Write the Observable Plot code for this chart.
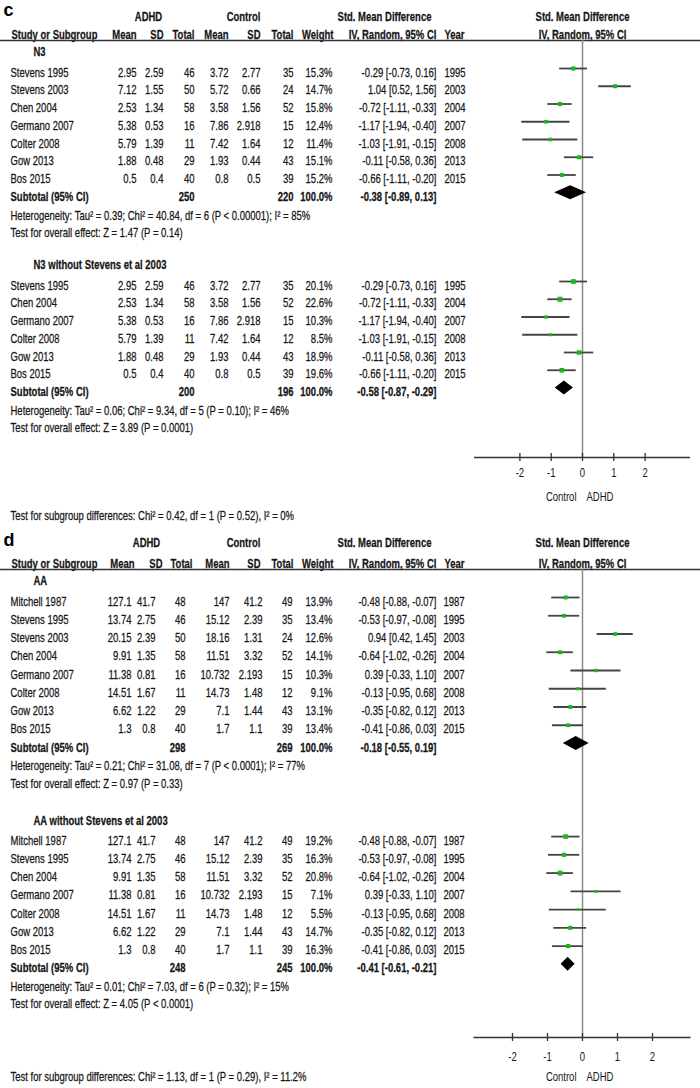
<!DOCTYPE html>
<html><head><meta charset="utf-8">
<script src="https://cdn.jsdelivr.net/npm/d3@7"></script>
<script src="https://cdn.jsdelivr.net/npm/@observablehq/plot@0.6"></script>
<style>
body{margin:0;background:#fff;}
#chart svg{display:block;}
</style></head><body><div id="chart"></div>
<script>
// ---------- Panel c data (N3) ----------
const studiesC = ["Stevens 1995","Stevens 2003","Chen 2004","Germano 2007","Colter 2008","Gow 2013","Bos 2015"];
const adhdMeanC = [2.95, 7.12, 2.53, 5.38, 5.79, 1.88, 0.5];
const adhdSdC = [2.59, 1.55, 1.34, 0.53, 1.39, 0.48, 0.4];
const adhdNC = [46, 50, 58, 16, 11, 29, 40];
const ctrlMeanC = [3.72, 5.72, 3.58, 7.86, 7.42, 1.93, 0.8];
const ctrlSdC = [2.77, 0.66, 1.56, 2.918, 1.64, 0.44, 0.5];
const ctrlNC = [35, 24, 52, 15, 12, 43, 39];
const smdC = [-0.29, 1.04, -0.72, -1.17, -1.03, -0.11, -0.66];
const loC = [-0.73, 0.52, -1.11, -1.94, -1.91, -0.58, -1.11];
const hiC = [0.16, 1.56, -0.33, -0.40, -0.15, 0.36, -0.20];
const yearC = [1995, 2003, 2004, 2007, 2008, 2013, 2015];
const groupsC = ["N3", "N3 without Stevens et al 2003"];
const membersC = [[0,1,2,3,4,5,6], [0,2,3,4,5,6]];
const weightsC = [[15.3,14.7,15.8,12.4,11.4,15.1,15.2], [20.1,22.6,10.3,8.5,18.9,19.6]];
const subAdhdNC = [250, 200];
const subCtrlNC = [220, 196];
const subSmdC = [-0.38, -0.58];
const subLoC = [-0.89, -0.87];
const subHiC = [0.13, -0.29];
const heteroC = ["Heterogeneity: Tau² = 0.39; Chi² = 40.84, df = 6 (P < 0.00001); I² = 85%",
                 "Heterogeneity: Tau² = 0.06; Chi² = 9.34, df = 5 (P = 0.10); I² = 46%"];
const overallC = ["Test for overall effect: Z = 1.47 (P = 0.14)", "Test for overall effect: Z = 3.89 (P = 0.0001)"];
const subgroupTestC = "Test for subgroup differences: Chi² = 0.42, df = 1 (P = 0.52), I² = 0%";

// ---------- Panel d data (AA) ----------
const studiesD = ["Mitchell 1987","Stevens 1995","Stevens 2003","Chen 2004","Germano 2007","Colter 2008","Gow 2013","Bos 2015"];
const adhdMeanD = [127.1, 13.74, 20.15, 9.91, 11.38, 14.51, 6.62, 1.3];
const adhdSdD = [41.7, 2.75, 2.39, 1.35, 0.81, 1.67, 1.22, 0.8];
const adhdND = [48, 46, 50, 58, 16, 11, 29, 40];
const ctrlMeanD = [147, 15.12, 18.16, 11.51, 10.732, 14.73, 7.1, 1.7];
const ctrlSdD = [41.2, 2.39, 1.31, 3.32, 2.193, 1.48, 1.44, 1.1];
const ctrlND = [49, 35, 24, 52, 15, 12, 43, 39];
const smdD = [-0.48, -0.53, 0.94, -0.64, 0.39, -0.13, -0.35, -0.41];
const loD = [-0.88, -0.97, 0.42, -1.02, -0.33, -0.95, -0.82, -0.86];
const hiD = [-0.07, -0.08, 1.45, -0.26, 1.10, 0.68, 0.12, 0.03];
const yearD = [1987, 1995, 2003, 2004, 2007, 2008, 2013, 2015];
const groupsD = ["AA", "AA without Stevens et al 2003"];
const membersD = [[0,1,2,3,4,5,6,7], [0,1,3,4,5,6,7]];
const weightsD = [[13.9,13.4,12.6,14.1,10.3,9.1,13.1,13.4], [19.2,16.3,20.8,7.1,5.5,14.7,16.3]];
const subAdhdND = [298, 248];
const subCtrlND = [269, 245];
const subSmdD = [-0.18, -0.41];
const subLoD = [-0.55, -0.61];
const subHiD = [0.19, -0.21];
const heteroD = ["Heterogeneity: Tau² = 0.21; Chi² = 31.08, df = 7 (P < 0.0001); I² = 77%",
                 "Heterogeneity: Tau² = 0.01; Chi² = 7.03, df = 6 (P = 0.32); I² = 15%"];
const overallD = ["Test for overall effect: Z = 0.97 (P = 0.33)", "Test for overall effect: Z = 4.05 (P < 0.0001)"];
const subgroupTestD = "Test for subgroup differences: Chi² = 1.13, df = 1 (P = 0.29), I² = 11.2%";

// ---------- shared labels ----------
const axisTicks = [-2, -1, 0, 1, 2];
const favourLeft = "Control";
const favourRight = "ADHD";
const headRow1 = ["ADHD", "Control", "Std. Mean Difference", "Std. Mean Difference"];
const headRow2 = ["Study or Subgroup", "Mean", "SD", "Total", "Mean", "SD", "Total", "Weight", "IV, Random, 95% CI", "Year", "IV, Random, 95% CI"];
const subtotalLabel = "Subtotal (95% CI)";

// ---------- styling / layout ----------
const FONT = '"Liberation Sans",Arial,sans-serif';
const FS = 12.5;          // font size
const SQUEEZE = 0.76;     // horizontal condensing (narrow face look)
const TEXT = "#161616";
const GREEN = "#17b817";

const layoutC = {
  height: 528, y0: 72, step: 17.75, xZero: 582, xUnit: 31.3, xHalf: 3.45,
  kTitle: -3.48, kHead1: -3.155, kHead2: -2.14, kLine: -1.8,
  labelGap: 1.13, group2First: 12, hetGap: 1.08, testGap: 2.05,
  kAxis: 21.69, kFav: 23.94, kSubTest: 25.01, tickPad: 11,
  cols: {m1:136, sd1:163, n1:194, m2:228, sd2:260, n2:293, w:332, smd:436, year:444},
  head1: [148, 243, 384, 582],
  head2: [[11,"start"],[136,"end"],[163,"end"],[194,"end"],[228,"end"],[260,"end"],[293,"end"],[333,"end"],[392,"middle"],[444,"start"],[582,"middle"]]
};
const layoutD = {
  height: 560, y0: 73, step: 18.25, xZero: 582, xUnit: 35, xHalf: 3.1,
  kTitle: -3.384, kHead1: -3.18, kHead2: -2.08, kLine: -1.75,
  labelGap: 1.1, group2First: 13.1, hetGap: 1.03, testGap: 1.98,
  kAxis: 23.89, kFav: 26.08, kSubTest: 26.08, tickPad: 15,
  cols: {m1:131, sd1:155, n1:185, m2:229, sd2:262, n2:292, w:332, smd:436, year:443},
  head1: [146, 243, 384, 582],
  head2: [[11,"start"],[134,"end"],[162,"end"],[192,"end"],[229,"end"],[260,"end"],[293,"end"],[333,"end"],[392,"middle"],[444,"start"],[582,"middle"]]
};

const C = {label:"c", studies:studiesC, adhdMean:adhdMeanC, adhdSd:adhdSdC, adhdN:adhdNC, ctrlMean:ctrlMeanC, ctrlSd:ctrlSdC, ctrlN:ctrlNC,
  smd:smdC, lo:loC, hi:hiC, year:yearC, groups:groupsC, members:membersC, weights:weightsC,
  subAdhdN:subAdhdNC, subCtrlN:subCtrlNC, subSmd:subSmdC, subLo:subLoC, subHi:subHiC, hetero:heteroC, overall:overallC, subgroupTest:subgroupTestC};
const D = {label:"d", studies:studiesD, adhdMean:adhdMeanD, adhdSd:adhdSdD, adhdN:adhdND, ctrlMean:ctrlMeanD, ctrlSd:ctrlSdD, ctrlN:ctrlND,
  smd:smdD, lo:loD, hi:hiD, year:yearD, groups:groupsD, members:membersD, weights:weightsD,
  subAdhdN:subAdhdND, subCtrlN:subCtrlND, subSmd:subSmdD, subLo:subLoD, subHi:subHiD, hetero:heteroD, overall:overallD, subgroupTest:subgroupTestD};

const f2 = v => v.toFixed(2);
const ciText = (e, l, h) => `${f2(e)} [${f2(l)}, ${f2(h)}]`;

function panel(P, L) {
  const rows = [], forest = [], diamonds = [];
  P.groups.forEach((g, gi) => {
    let k = gi === 0 ? 0 : L.group2First;
    rows.push({k: k - L.labelGap, label: g});
    P.members[gi].forEach((si, j) => {
      const w = P.weights[gi][j];
      forest.push({k, est: P.smd[si], lo: P.lo[si], hi: P.hi[si], w});
      rows.push({k, study: P.studies[si], m1: String(P.adhdMean[si]), sd1: String(P.adhdSd[si]), n1: String(P.adhdN[si]),
        m2: String(P.ctrlMean[si]), sd2: String(P.ctrlSd[si]), n2: String(P.ctrlN[si]), w: w.toFixed(1) + "%",
        smd: ciText(P.smd[si], P.lo[si], P.hi[si]), year: String(P.year[si])});
      k++;
    });
    rows.push({k, bold: true, study: subtotalLabel, n1: String(P.subAdhdN[gi]), n2: String(P.subCtrlN[gi]), w: "100.0%",
      smd: ciText(P.subSmd[gi], P.subLo[gi], P.subHi[gi])});
    const hk = 7 / L.step;
    diamonds.push({g: gi, x: P.subLo[gi], y1: k, y2: k});
    diamonds.push({g: gi, x: P.subSmd[gi], y1: k - hk, y2: k + hk});
    diamonds.push({g: gi, x: P.subHi[gi], y1: k, y2: k});
    rows.push({k: k + L.hetGap, note: P.hetero[gi]});
    rows.push({k: k + L.testGap, note: P.overall[gi]});
  });
  rows.push({k: L.kSubTest, note: P.subgroupTest});

  const txt = (data, text, dx, anchor, weight, extra = {}) =>
    Plot.text(data, {y: "k", text, frameAnchor: "left", dx, textAnchor: anchor, fontWeight: weight,
      fontSize: FS, fontFamily: FONT, fill: TEXT, stroke: TEXT, strokeWidth: 0.25, ...extra});

  const marks = [];
  const normal = rows.filter(d => !d.bold), bold = rows.filter(d => d.bold);
  marks.push(txt(normal.filter(d => d.study), "study", 10, "start", "normal"));
  marks.push(txt(bold, "study", 10, "start", "bold"));
  for (const key of ["m1","sd1","n1","m2","sd2","n2","w","smd"]) {
    marks.push(txt(normal.filter(d => d[key] != null), key, L.cols[key], "end", "normal"));
    marks.push(txt(bold.filter(d => d[key] != null), key, L.cols[key], "end", "bold"));
  }
  marks.push(txt(normal.filter(d => d.year), "year", L.cols.year, "start", "normal"));
  marks.push(txt(rows.filter(d => d.label), "label", 33, "start", "bold"));
  marks.push(txt(rows.filter(d => d.note), "note", 10, "start", "normal"));
  headRow1.forEach((h, i) => marks.push(txt([{k: L.kHead1, h}], "h", L.head1[i], "middle", "bold")));
  headRow2.forEach((h, i) => marks.push(txt([{k: L.kHead2, h}], "h", L.head2[i][0], L.head2[i][1], "bold")));
  marks.push(Plot.text([{k: L.kTitle, h: P.label}], {y: "k", text: "h", frameAnchor: "left", dx: 3, textAnchor: "start",
    fontWeight: "bold", fontSize: 18, fontFamily: FONT, fill: "#000"}));
  marks.push(Plot.ruleY([L.kLine], {stroke: "#333", strokeWidth: 1.4}));
  marks.push(Plot.ruleX([0], {y1: L.kLine, y2: L.kAxis, stroke: "#8a8a8a", strokeWidth: 1.5}));
  marks.push(Plot.ruleY(forest, {y: "k", x1: "lo", x2: "hi", stroke: "#444", strokeWidth: 1.8, dy: -4}));
  marks.push(Plot.dot(forest, {x: "est", y: "k", r: "w", symbol: "square", fill: GREEN, dy: -4}));
  marks.push(Plot.areaY(diamonds, {x: "x", y1: "y1", y2: "y2", z: "g", fill: "#000", dy: -4}));
  marks.push(Plot.ruleY([L.kAxis], {x1: -L.xHalf, x2: L.xHalf, stroke: "#333", strokeWidth: 1.4}));
  marks.push(Plot.ruleX(axisTicks, {y1: L.kAxis - 4 / L.step, y2: L.kAxis + 4 / L.step, stroke: "#333", strokeWidth: 1.3}));
  marks.push(Plot.axisX({anchor: "bottom", ticks: axisTicks, tickSize: 0, tickPadding: L.tickPad,
    tickFormat: d => String(d), label: null, fontSize: FS, fontFamily: FONT, fill: TEXT}));
  marks.push(Plot.text([{k: L.kFav, t: favourLeft}], {x: () => 0, y: "k", text: "t", dx: -6, textAnchor: "end", fontSize: FS, fontFamily: FONT, fill: TEXT}));
  marks.push(Plot.text([{k: L.kFav, t: favourRight}], {x: () => 0, y: "k", text: "t", dx: 4, textAnchor: "start", fontSize: FS, fontFamily: FONT, fill: TEXT}));

  const axisPix = L.y0 + L.step * L.kAxis;
  const svg = Plot.plot({
    width: 700, height: L.height,
    marginLeft: 0, marginRight: 0, marginTop: 0, marginBottom: L.height - axisPix,
    style: {fontFamily: FONT, fontSize: FS + "px", color: TEXT, background: "#fff", overflow: "visible"},
    x: {domain: [-L.xHalf, L.xHalf], range: [L.xZero - L.xHalf * L.xUnit, L.xZero + L.xHalf * L.xUnit]},
    y: {type: "linear", domain: [0, 1], range: [L.y0, L.y0 + L.step], axis: null},
    r: {domain: [0, 25], range: [0, 2.95]},
    marks
  });
  // condense all running text horizontally around its anchor (narrow-face look), except the panel letter
  svg.querySelectorAll("text").forEach(el => {
    const g = el.closest("g");
    if (g && g.getAttribute("font-size") === "18") return;
    const x0 = parseFloat(el.getAttribute("x") || "0");
    const t = el.getAttribute("transform") || "";
    el.setAttribute("transform", `${t} translate(${x0},0) scale(${SQUEEZE},1) translate(${-x0},0)`);
  });
  return svg;
}

const root = document.getElementById("chart");
root.append(panel(C, layoutC));
root.append(panel(D, layoutD));
</script></body></html>
